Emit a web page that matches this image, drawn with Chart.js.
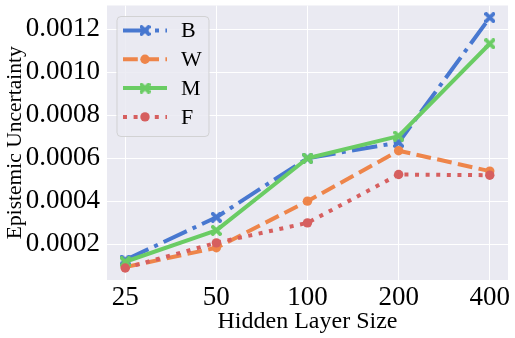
<!DOCTYPE html>
<html><head><meta charset="utf-8">
<script src="https://cdn.jsdelivr.net/npm/chart.js@4"></script>
<style>html,body{margin:0;padding:0;background:#fff}#wrap{width:515px;height:338px}</style>
</head><body><div id="wrap"><canvas id="c" width="515" height="338"></canvas></div>
<script>
const categories = ['25', '50', '100', '200', '400'];
const seriesNames = ['B', 'W', 'M', 'F'];
const valuesB = [0.000126, 0.000325, 0.000600, 0.000673, 0.001255];
const valuesW = [0.000093, 0.000183, 0.000400, 0.000635, 0.000540];
const valuesM = [0.000118, 0.000264, 0.000600, 0.000703, 0.001133];
const valuesF = [0.000089, 0.000206, 0.000299, 0.000524, 0.000521];
const yTickValues = [0.0002, 0.0004, 0.0006, 0.0008, 0.0010, 0.0012];
const xTitle = 'Hidden Layer Size';
const yTitle = 'Epistemic Uncertainty';

const FONT = "'Liberation Serif', 'Times New Roman', serif";
const colors = ['#4878d0', '#ee854a', '#6acc64', '#d65f5f'];
const dashes = [[25.6, 6.4, 4, 6.4], [14.8, 6.4], [], [4, 6.6]];
const markers = ['x', 'o', 'x', 'o'];

function makeX(color, size) {
  const c = document.createElement('canvas');
  c.width = c.height = size;
  const g = c.getContext('2d');
  const s = size / 2, t = size * 0.17;
  g.translate(s, s); g.rotate(Math.PI / 4);
  g.fillStyle = color;
  g.fillRect(-s * 1.25, -t, s * 2.5, 2 * t);
  g.fillRect(-t, -s * 1.25, 2 * t, s * 2.5);
  return c;
}
const xImgs = colors.map(c => makeX(c, 11));

const allValues = [valuesB, valuesW, valuesM, valuesF];
const datasets = allValues.map((vals, k) => ({
  label: seriesNames[k],
  data: vals.map((v, i) => ({x: i, y: v})),
  borderColor: colors[k],
  backgroundColor: colors[k],
  borderWidth: 4,
  borderDash: dashes[k],
  borderCapStyle: 'butt',
  borderJoinStyle: 'round',
  pointStyle: markers[k] === 'x' ? xImgs[k] : 'circle',
  pointRadius: markers[k] === 'x' ? 5.5 : 4.7,
  pointBorderWidth: 0,
  pointBackgroundColor: colors[k],
  tension: 0,
  order: 4 - k
}));

const bgPlugin = {
  id: 'bg',
  beforeDraw(chart) {
    const {ctx, chartArea: a} = chart;
    ctx.save();
    ctx.fillStyle = '#eaeaf2';
    ctx.fillRect(a.left, a.top, a.right - a.left, a.bottom - a.top);
    ctx.restore();
  }
};

const legendPlugin = {
  id: 'customLegend',
  afterDraw(chart) {
    const {ctx, chartArea: a} = chart;
    const x0 = a.left + 10, y0 = a.top + 11, w = 92, h = 120, r = 4;
    ctx.save();
    ctx.beginPath();
    ctx.roundRect(x0, y0, w, h, r);
    ctx.fillStyle = 'rgba(234,234,242,0.85)';
    ctx.fill();
    ctx.lineWidth = 1;
    ctx.strokeStyle = 'rgba(204,204,204,0.8)';
    ctx.stroke();
    seriesNames.forEach((name, k) => {
      const cy = y0 + 14 + k * 28.8;
      const lx0 = x0 + 6, lx1 = x0 + 50, mx = (lx0 + lx1) / 2;
      ctx.beginPath();
      ctx.setLineDash(dashes[k]);
      ctx.lineCap = 'butt';
      ctx.lineWidth = 4;
      ctx.strokeStyle = colors[k];
      ctx.moveTo(lx0, cy); ctx.lineTo(lx1, cy);
      ctx.stroke();
      ctx.setLineDash([]);
      if (markers[k] === 'x') {
        ctx.drawImage(xImgs[k], mx - 5.5, cy - 5.5);
      } else {
        ctx.beginPath();
        ctx.fillStyle = colors[k];
        ctx.arc(mx, cy, 4.7, 0, Math.PI * 2);
        ctx.fill();
      }
      ctx.fillStyle = '#000';
      ctx.font = '22px ' + FONT;
      ctx.textBaseline = 'middle';
      ctx.textAlign = 'left';
      ctx.fillText(name, x0 + 64, cy + 1);
    });
    ctx.restore();
  }
};

function zeroPad(s) { s.paddingTop = 0; s.paddingBottom = 0; s.paddingLeft = 0; s.paddingRight = 0; }

new Chart(document.getElementById('c'), {
  type: 'line',
  data: {datasets},
  options: {
    responsive: false,
    animation: false,
    devicePixelRatio: 1,
    layout: {padding: {top: 4, right: 7, left: 0, bottom: 0}},
    plugins: {legend: {display: false}, tooltip: {enabled: false}},
    scales: {
      x: {
        type: 'linear', min: -0.2, max: 4.2,
        afterBuildTicks: s => { s.ticks = categories.map((c, i) => ({value: i})); },
        afterFit: s => { s.height = 58; zeroPad(s); },
        ticks: {callback: v => categories[v], font: {family: FONT, size: 27}, color: '#000', padding: 2, autoSkip: false, maxRotation: 0},
        grid: {color: '#ffffff', lineWidth: 1, drawTicks: false},
        border: {display: false},
        title: {display: true, text: xTitle, font: {family: FONT, size: 24}, color: '#000', padding: {top: 0, bottom: 2}}
      },
      y: {
        type: 'linear', min: 0.000033, max: 0.001311,
        afterBuildTicks: s => { s.ticks = yTickValues.map(v => ({value: v})); },
        afterFit: s => { s.width = 107; zeroPad(s); },
        ticks: {callback: v => v.toFixed(4), font: {family: FONT, size: 27}, color: '#000', padding: 7},
        grid: {color: '#ffffff', lineWidth: 1, drawTicks: false},
        border: {display: false},
        title: {display: true, text: yTitle, font: {family: FONT, size: 21.5}, color: '#000', padding: {top: 2, bottom: 0}}
      }
    }
  },
  plugins: [bgPlugin, legendPlugin]
});
</script></body></html>
